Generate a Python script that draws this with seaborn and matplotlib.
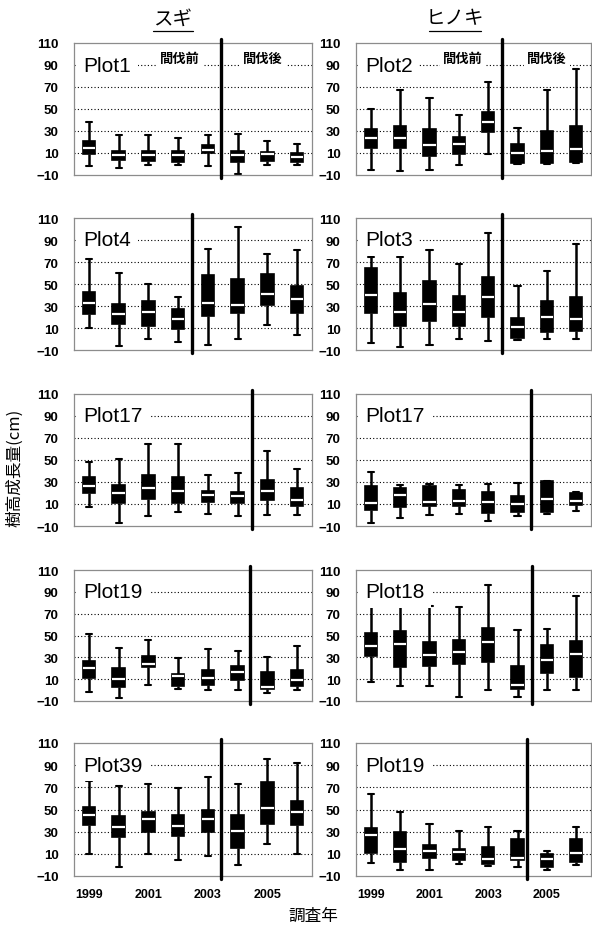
import numpy as np
import pandas as pd
import matplotlib
matplotlib.use('Agg')
import matplotlib.pyplot as plt
import matplotlib.transforms as mtransforms
from matplotlib.lines import Line2D
import seaborn as sns

# ── data: five-number summaries (min, Q1, median, Q3, max) per survey year ──
YEARS = ['1999', '2000', '2001', '2002', '2003', '2004', '2005', '2006']
YEAR_LABELS = ['1999', '', '2001', '', '2003', '', '2005', '']

sugi_plot1 = [[-2, 9, 15, 21, 38], [-4, 4, 8, 12, 26], [-1, 3, 8, 12, 26], [-1, 2, 8, 12, 24],
              [-2, 10, 13, 17, 26], [-9, 2, 8, 12, 27], [-1, 3, 9, 11, 21], [-1, 2, 6, 10, 18]]
hinoki_plot2 = [[-5, 15, 24, 32, 50], [-6, 15, 24, 35, 67], [-5, 7, 17, 32, 60], [-1, 9, 18, 25, 45],
                [9, 29, 38, 47, 75], [0, 1, 10, 18, 33], [0, 1, 12, 30, 67], [1, 2, 14, 35, 86]]
sugi_plot4 = [[10, 23, 33, 43, 73], [-6, 14, 23, 32, 60], [0, 12, 25, 35, 50], [-3, 9, 18, 27, 38],
              [-5, 21, 33, 58, 82], [0, 24, 31, 55, 102], [13, 31, 41, 59, 77], [4, 24, 36, 48, 81]]
hinoki_plot3 = [[-4, 24, 40, 65, 75], [-7, 12, 25, 42, 75], [-5, 16, 32, 53, 81], [0, 12, 25, 39, 68],
                [-2, 20, 38, 56, 96], [-1, 0.5, 11, 19, 48], [0, 6, 20, 35, 62], [0, 7, 18, 38, 86]]
sugi_plot17 = [[7, 20, 26, 35, 48], [-7, 11, 20, 27, 51], [-1, 15, 25, 36, 65], [3, 11, 22, 35, 65],
               [1, 12, 18, 22, 36], [-1, 11, 17, 21, 38], [0, 14, 22, 32, 58], [0, 8, 14, 25, 42]]
hinoki_plot17 = [[-7, 5, 11, 26, 39], [-3, 7, 18, 25, 27], [0, 8, 12, 26, 28], [1, 8, 13, 23, 27],
                 [-5, 2, 12, 21, 28], [-1, 3, 10, 17, 29], [1, 3, 15, 31, 31], [4, 9, 13, 20, 21]]
sugi_plot19 = [[-2, 11, 20, 27, 51], [-7, 3, 10, 20, 39], [5, 21, 24, 31, 46], [1, 4, 13, 15, 29],
               [0, 5, 11, 18, 38], [0, 9, 17, 22, 36], [-3, 1, 3, 17, 30], [0, 4, 9, 18, 40]]
hinoki_plot18 = [[7, 31, 40, 52, 77], [4, 21, 42, 54, 77], [4, 22, 32, 44, 77], [-6, 24, 35, 46, 76],
                 [0, 26, 44, 57, 96], [-6, 1, 5, 22, 55], [0, 16, 28, 41, 56], [0, 12, 33, 45, 86]]
sugi_plot39 = [[10, 36, 45, 52, 76], [-2, 25, 34, 44, 71], [10, 30, 41, 48, 73], [4, 26, 35, 45, 69],
               [8, 30, 41, 50, 79], [0, 15, 31, 45, 73], [19, 37, 51, 75, 96], [10, 36, 48, 58, 92]]
hinoki_plot19 = [[2, 11, 27, 33, 64], [-5, 3, 14, 30, 48], [-5, 6, 13, 18, 37], [1, 4, 12, 14, 31],
                 [-1, 1, 5, 16, 34], [-2, 4, 6, 23, 31], [-5, -2, 5, 10, 13], [0, 3, 11, 23, 34]]

# (label, data, thinning line position) for left (スギ) and right (ヒノキ) columns
PANELS_LEFT = [('Plot1', sugi_plot1, 4.45), ('Plot4', sugi_plot4, 3.45),
               ('Plot17', sugi_plot17, 5.47), ('Plot19', sugi_plot19, 5.4),
               ('Plot39', sugi_plot39, 4.45)]
PANELS_RIGHT = [('Plot2', hinoki_plot2, 4.47), ('Plot3', hinoki_plot3, 4.47),
                ('Plot17', hinoki_plot17, 5.47), ('Plot18', hinoki_plot18, 5.5),
                ('Plot19', hinoki_plot19, 5.33)]

# ── style ──
sns.set_theme(style='white')
plt.rcParams['font.family'] = ['Liberation Sans', 'Noto Sans CJK JP', 'DejaVu Sans']
plt.rcParams.update({'text.color': 'black', 'axes.labelcolor': 'black',
                     'xtick.color': 'black', 'ytick.color': 'black'})
CJK = ['Noto Sans CJK JP', 'DejaVu Sans']

W, H = 592, 928
fig = plt.figure(figsize=(W / 100, H / 100), dpi=100)

col_x = [(74, 238), (356, 235)]
row_y = [(44, 176), (219, 351), (395, 527), (571, 702), (744, 877)]


def draw_panel(ax, label, stats, cut, bottom_row):
    df = pd.DataFrame([(yr, v) for yr, s in zip(YEARS, stats) for v in s],
                      columns=['year', 'value'])
    sns.boxplot(data=df, x='year', y='value', order=YEARS, whis=(0, 100),
                width=0.42, color='black', linecolor='black', linewidth=1.2,
                showfliers=False, ax=ax,
                boxprops=dict(facecolor='black', edgecolor='black'),
                medianprops=dict(color='white', linewidth=1.6),
                whiskerprops=dict(color='black', linewidth=1.8),
                capprops=dict(color='black', linewidth=1.5))
    ax.set_xlim(-0.5, 7.5)
    ax.set_ylim(-10, 110)
    ax.set_yticks(np.arange(-10, 111, 20))
    for v in [10, 30, 50, 70, 90]:
        ax.axhline(v, color='black', lw=0.8, ls=(0, (1, 2)), zorder=0)
    for sp in ax.spines.values():
        sp.set_color('#8c8c8c')
        sp.set_linewidth(0.9)
    ax.tick_params(axis='y', length=0, pad=11, labelsize=9.5, labelcolor='black')
    for t in ax.get_yticklabels():
        t.set_fontweight('bold')
    ax.set_xlabel('')
    ax.set_ylabel('')
    if bottom_row:
        ax.set_xticks(range(len(YEARS)))
        ax.set_xticklabels(YEAR_LABELS, fontsize=9, fontweight='bold', color='black')
        ax.tick_params(axis='x', length=0, pad=9)
    else:
        ax.set_xticks([])
    ax.axvline(cut, ymin=-0.02, ymax=1.03, color='black', lw=2.4,
               clip_on=False, zorder=5)
    trans = mtransforms.blended_transform_factory(ax.transAxes, ax.transData)
    ax.text(0.04, 90, label, transform=trans, fontsize=15, va='center', ha='left',
            color='black', zorder=6,
            bbox=dict(facecolor='white', edgecolor='none', boxstyle='square,pad=0.3'))


for c, panels in enumerate([PANELS_LEFT, PANELS_RIGHT]):
    x0, w = col_x[c]
    for r, (label, stats, cut) in enumerate(panels):
        top, bot = row_y[r]
        ax = fig.add_axes([x0 / W, 1 - bot / H, w / W, (bot - top) / H])
        draw_panel(ax, label, stats, cut, r == 4)
        if r == 0:
            pre_x, post_x = (0.445, 0.795) if c == 0 else (0.455, 0.813)
            for xx, txt in [(pre_x, '間伐前'), (post_x, '間伐後')]:
                ax.text(xx, 0.885, txt, transform=ax.transAxes, family=CJK,
                        fontsize=9.5, fontweight='bold', ha='center', va='center',
                        color='black', zorder=6,
                        bbox=dict(facecolor='white', edgecolor='none',
                                  boxstyle='square,pad=0.25'))

# column titles with underline
for txt, cx, x1, x2 in [('スギ', 173, 153, 193), ('ヒノキ', 455, 429, 481)]:
    fig.text(cx / W, 1 - 19 / H, txt, family=CJK, fontsize=14,
             ha='center', va='center', color='black')
    fig.add_artist(Line2D([x1 / W, x2 / W], [1 - 32 / H, 1 - 32 / H],
                          color='black', lw=0.9))

fig.text(15 / W, 1 - 468 / H, '樹高成長量(cm)', family=CJK, fontsize=12,
         rotation=90, ha='center', va='center', color='black')
fig.text(313 / W, 1 - 916 / H, '調査年', family=CJK, fontsize=12,
         ha='center', va='center', color='black')

fig.savefig('out.png', dpi=100)
